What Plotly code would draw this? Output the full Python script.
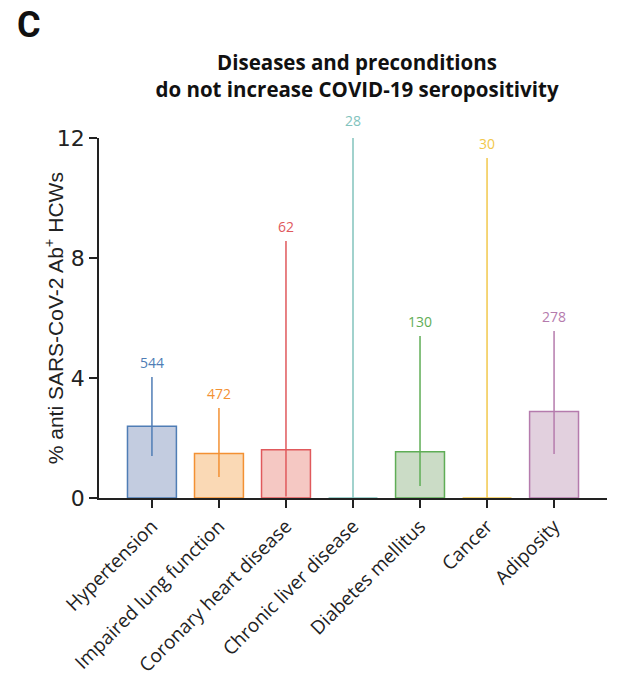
import plotly.graph_objects as go

# Seropositivity by pre-existing condition (percent, with 95% CI) and group sizes
categories = ["Hypertension", "Impaired lung function", "Coronary heart disease",
              "Chronic liver disease", "Diabetes mellitus", "Cancer", "Adiposity"]
percent_pos = [2.39, 1.48, 1.61, 0.0, 1.54, 0.0, 2.88]
ci_upper = [4.03, 3.0, 8.57, 12.1, 5.4, 11.33, 5.57]
ci_lower = [1.4, 0.7, 0.05, 0.0, 0.4, 0.0, 1.47]
group_n = [544, 472, 62, 28, 130, 30, 278]
y_ticks = [0, 4, 8, 12]
Y_MAX = 12

edge_colors = ["#4f7db5", "#f39133", "#e0595c", "#82c3bd", "#5fad56", "#f2c84b", "#b57bad"]
fill_colors = ["#c3cce0", "#fad9b5", "#f5c8c3", "#d5ecea", "#cbdcc6", "#fbefc6", "#e2d0de"]

fig = go.Figure()
for i, cat in enumerate(categories):
    fig.add_trace(go.Bar(
        x=[cat], y=[percent_pos[i]],
        width=0.73,
        marker=dict(color=fill_colors[i], line=dict(color=edge_colors[i], width=1.5)),
        error_y=dict(type="data", symmetric=False,
                     array=[ci_upper[i] - percent_pos[i]],
                     arrayminus=[percent_pos[i] - ci_lower[i]],
                     color=edge_colors[i], thickness=1.5, width=0),
        cliponaxis=False, showlegend=False, hoverinfo="skip",
    ))
    # group size written above the upper CI bound (paper y so labels above the range still show)
    fig.add_annotation(x=cat, xref="x", yref="paper", y=ci_upper[i] / Y_MAX,
                       text=str(group_n[i]), showarrow=False,
                       yanchor="bottom", yshift=3,
                       font=dict(family="Open Sans", size=14, color=edge_colors[i]))

# panel letter
fig.add_annotation(xref="paper", yref="paper", x=-0.166, y=1.315, xanchor="left",
                   yanchor="middle", text="<b>C</b>", showarrow=False,
                   font=dict(family="Roboto", size=36, color="#111111"))

# y-axis title placed close to the tick labels
fig.add_annotation(xref="paper", yref="paper", x=-0.088, y=0.5, textangle=-90,
                   xanchor="center", yanchor="middle", showarrow=False,
                   text="% anti SARS-CoV-2 Ab<sup>+</sup> HCWs",
                   font=dict(family="Liberation Sans", size=21, color="#222222"))

fig.update_layout(
    width=626, height=682,
    margin=dict(l=99, r=19, t=138, b=184),
    paper_bgcolor="white", plot_bgcolor="white",
    title=dict(text="<b>Diseases and preconditions<br>do not increase COVID-19 seropositivity</b>",
               x=357 / 626, xanchor="center", y=1 - 70 / 682, yanchor="middle",
               font=dict(family="Open Sans", size=20.5, color="#111111")),
    xaxis=dict(range=[-0.79, 6.79], showline=True, linecolor="#222222", linewidth=1.5,
               ticks="outside", ticklen=8, tickwidth=1.5, tickcolor="#222222",
               tickangle=-45, tickfont=dict(family="Open Sans", size=19, color="#222222"),
               showgrid=False, zeroline=False, automargin=False),
    yaxis=dict(range=[0, Y_MAX], tickvals=y_ticks, showline=True, linecolor="#222222",
               linewidth=1.5, ticks="outside", ticklen=8, tickwidth=1.5, tickcolor="#222222",
               tickfont=dict(family="DejaVu Sans", size=22, color="#222222"),
               showgrid=False, zeroline=False, automargin=False),
)

fig.write_html("out.html")
